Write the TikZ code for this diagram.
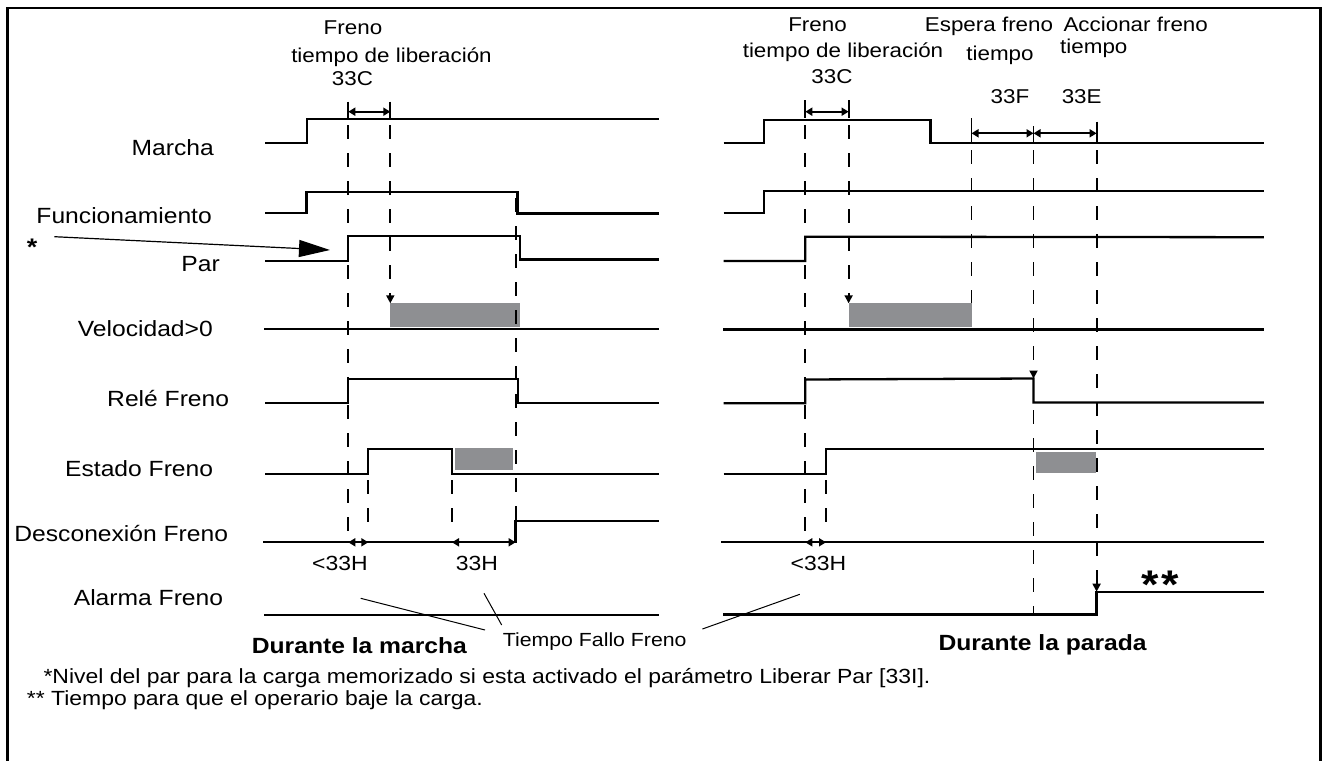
\documentclass[tikz,border=0pt]{standalone}
\usepackage{fontspec}
\setmainfont{Liberation Sans}[FakeStretch=1.12]
\usetikzlibrary{arrows.meta}
\definecolor{boxgray}{RGB}{142,143,146}
\tikzset{
  sig/.style={line width=2.3pt, line join=miter},
  dsh/.style={line width=1.8pt, dash pattern=on 14pt off 14pt},
  tickln/.style={line width=1.8pt},
  dim/.style={line width=1.8pt, {Triangle[length=7pt,width=8pt]}-{Triangle[length=7pt,width=8pt]}},
  darr/.style={-{Triangle[length=8pt,width=8pt]}},
  graybox/.style={fill=boxgray, draw=none},
  thinln/.style={line width=1pt},
  lab/.style={font=\fontsize{22}{24}\selectfont, anchor=base east, inner sep=0pt},
  toplab/.style={font=\fontsize{20}{22}\selectfont, anchor=base, inner sep=0pt},
  hlab/.style={font=\fontsize{20.5}{22}\selectfont, anchor=base, inner sep=0pt},
  fallo/.style={font=\fontsize{19}{21}\selectfont, anchor=base west, inner sep=0pt},
  boldlab/.style={font=\bfseries\fontsize{22}{24}\selectfont, anchor=base west, inner sep=0pt},
  foot/.style={font=\fontsize{20.5}{22}\selectfont, anchor=base west, inner sep=0pt},
}
\begin{document}
\begin{tikzpicture}[x=1pt,y=-1pt]
\useasboundingbox (0,0) rectangle (1324,760);
\fill[white] (0,0) rectangle (1324,760);
% frame (bottom edge lies below the visible area)
\draw[line width=2.5pt] (7.5,790) -- (7.5,8) -- (1320.5,8) -- (1320.5,790);

% ---------- gray boxes ----------
\fill[graybox] (390.3,303.3) rectangle (520,326.7);
\fill[graybox] (455,448.3) rectangle (513.4,470);
\fill[graybox] (848.6,303.3) rectangle (972.3,327);
\fill[graybox] (1035.8,452.3) rectangle (1095.6,473.3);

% ---------- left signals ----------
\draw[sig] (265,143.3) -- (306.7,143.3) -- (306.7,119) -- (658.5,119);
\draw[sig] (265,213.3) -- (306.5,213.3) -- (306.5,191.7) -- (517.5,191.7) -- (517.5,213.5) -- (658.5,213.5);
\draw[sig] (265,261) -- (348.3,261) -- (348.3,236) -- (520,236) -- (520,259.5) -- (658.5,259.5);
\draw[sig] (264,329.3) -- (658.5,329.3);
\draw[sig] (265,403.3) -- (348.3,403.3) -- (348.3,379.3) -- (518,379.3) -- (518,402.7) -- (658.5,402.7);
\draw[sig] (265,474.2) -- (368.3,474.2) -- (368.3,449) -- (452,449) -- (452,474.2) -- (658.5,474.2);
\draw[sig] (263.4,542.3) -- (515.6,542.3) -- (515.6,521) -- (658.5,521);
\draw[sig] (264,614.8) -- (658.5,614.8);

% ---------- right signals ----------
\draw[sig] (723.6,143.3) -- (763.8,143.3) -- (763.8,120) -- (930.5,120) -- (930.5,143.3) -- (1263.8,143.3);
\draw[sig] (723.6,212.7) -- (763.8,212.7) -- (763.8,191) -- (1263.8,191);
\draw[sig] (723.6,261) -- (805.3,261) -- (805.3,236.7) -- (1263.8,237.2);
\draw[sig] (723,329.5) -- (1263.8,329.5);
\draw[sig] (723.6,403.3) -- (805.3,403.3) -- (805.3,379.5) -- (1033.5,378.5) -- (1033.5,402.5) -- (1263.8,402.5);
\draw[sig] (723.6,474.2) -- (826,474.2) -- (826,449) -- (1263.8,449);
\draw[sig] (721.4,542.3) -- (1263.8,542.3);
\draw[sig] (723,614.5) -- (1096.6,614.5) -- (1096.6,591.7) -- (1263.8,591.7);

% ---------- dashed guide lines ----------
\draw[dsh] (348.3,125) -- (348.3,536);
\draw[dsh,darr] (390.3,125) -- (390.3,303.3);
\draw[dsh] (516,198) -- (516,536);
\draw[dsh] (368.3,480) -- (368.3,536);
\draw[dsh] (452,480) -- (452,536);
\draw[dsh] (805.3,125) -- (805.3,536);
\draw[dsh,darr] (848.6,125) -- (848.6,303.3);
\draw[dsh] (971.5,150) -- (971.5,303.3);
\draw[dsh,darr] (1033.5,150) -- (1033.5,378.5);
\draw[dsh] (1033.5,410) -- (1033.5,614.5);
\draw[dsh,darr] (1096.6,150) -- (1096.6,591.7);
\draw[dsh] (826,480) -- (826,536);

% ---------- ticks ----------
\draw[tickln] (348.3,101.7) -- (348.3,118);
\draw[tickln] (390.3,101.7) -- (390.3,118);
\draw[tickln] (805.3,100) -- (805.3,118);
\draw[tickln] (848.6,100) -- (848.6,118);
\draw[tickln] (971.5,118) -- (971.5,143);
\draw[tickln] (1096.6,121.7) -- (1096.6,143);
\draw[tickln] (1033.5,126) -- (1033.5,143);

% ---------- dimension arrows ----------
\coordinate (a1) at (348.3,111.7); \coordinate (a2) at (390.3,111.7);
\coordinate (a3) at (805.3,111.7); \coordinate (a4) at (848.6,111.7);
\coordinate (b1) at (971.5,133.3); \coordinate (b2) at (1033.5,133.3); \coordinate (b3) at (1096.6,133.3);
\coordinate (h1a) at (348.3,542.3); \coordinate (h1b) at (368.3,542.3);
\coordinate (h2a) at (452,542.3); \coordinate (h2b) at (515.6,542.3);
\coordinate (h3a) at (805.3,542.3); \coordinate (h3b) at (826,542.3);
\draw[dim] (a1) -- (a2);
\draw[dim] (a3) -- (a4);
\draw[dim] (b1) -- (b2);
\draw[dim] (b2) -- (b3);
\draw[dim] (h1a) -- (h1b);
\draw[dim] (h2a) -- (h2b);
\draw[dim] (h3a) -- (h3b);

% ---------- signal labels ----------
\node[lab] (marcha) at (214,155.5) {Marcha};
\node[lab] (func) at (212,223.3) {Funcionamiento};
\node[lab] (par) at (220,271.7) {Par};
\node[lab] (vel) at (213,336.7) {Velocidad>0};
\node[lab] (rele) at (229.3,406.7) {Relé Freno};
\node[lab] (estado) at (213.3,476.7) {Estado Freno};
\node[lab] (desc) at (228.3,541.7) {Desconexión Freno};
\node[lab] (alarma) at (223.3,605) {Alarma Freno};

% ---------- star annotation ----------
\node[font=\bfseries\fontsize{24}{24}\selectfont, anchor=base, inner sep=0pt] (star) at (32,255.5) {*};
\coordinate (starA) at (54.3,236.7);
\coordinate (parTip) at (330,250);
\draw[line width=1.2pt, -{Triangle[length=31pt,width=17pt]}] (starA) -- (parTip);

% ---------- top texts ----------
\node[toplab] (f1) at (353,35) {Freno};
\node[toplab] (t1) at (391.5,63) {tiempo de liberación};
\node[toplab] (c1) at (352.5,85) {33C};
\node[toplab] (f2) at (817.5,31.7) {Freno};
\node[toplab] (t2) at (843,57) {tiempo de liberación};
\node[toplab] (c2) at (832,83.3) {33C};
\node[toplab] (esp) at (989,31.7) {Espera freno};
\node[toplab] (espt) at (1000,60) {tiempo};
\node[toplab, anchor=base west] (acc) at (1063.3,31.7) {Accionar freno};
\node[toplab, anchor=base west] (acct) at (1060,53.3) {tiempo};
\node[toplab] (f33) at (1010,103.3) {33F};
\node[toplab] (e33) at (1081.7,103.3) {33E};

% ---------- lower texts ----------
\node[hlab] (h1) at (340,570) {<33H};
\node[hlab] (h2) at (477,570) {33H};
\node[hlab] (h3) at (818.5,570) {<33H};
\node[font=\bfseries\fontsize{40}{40}\selectfont, anchor=base, inner sep=0pt] (dstar) at (1160.5,598) {*\hspace{3pt}*};

\node[fallo] (tff) at (502.7,646.7) {Tiempo Fallo Freno};
\coordinate (tf1a) at (360.7,598.3); \coordinate (tf1b) at (485,630);
\coordinate (tf2a) at (484,593.3);   \coordinate (tf2b) at (501.7,625);
\coordinate (tf3a) at (799.8,594.3); \coordinate (tf3b) at (702.4,629);
\draw[thinln] (tf1a) -- (tf1b);
\draw[thinln] (tf2a) -- (tf2b);
\draw[thinln] (tf3a) -- (tf3b);

\node[boldlab] (dm) at (251.7,653.3) {Durante la marcha};
\node[boldlab] (dp) at (938.3,650) {Durante la parada};

\node[foot] (n1) at (43.3,683.3) {*Nivel del par para la carga memorizado si esta activado el parámetro Liberar Par [33I].};
\node[foot] (n2) at (26.7,705) {** Tiempo para que el operario baje la carga.};
\end{tikzpicture}
\end{document}
